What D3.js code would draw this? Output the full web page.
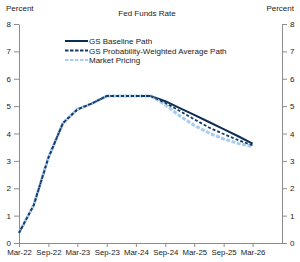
<!DOCTYPE html>
<html>
<head>
<meta charset="utf-8">
<script src="https://cdn.jsdelivr.net/npm/d3@7"></script>
<style>
body { margin: 0; background: #fff; }
svg text { font-family: "Liberation Sans", Arial, sans-serif; fill: #1a1a1a; }
.axis path, .axis line { stroke: #8c8c8c; }
</style>
</head>
<body>
<div id="chart"></div>
<script>
// history shared by all three paths (quarterly, percent)
var hist_dates = ["2022-03", "2022-06", "2022-09", "2022-12", "2023-03", "2023-06",
                  "2023-09", "2023-12", "2024-03", "2024-06"];
var hist_values = [0.37, 1.38, 3.12, 4.38, 4.88, 5.1, 5.37, 5.37, 5.37, 5.37];

// forecasts
var fc_dates = ["2024-06", "2024-09", "2024-12", "2025-03", "2025-06", "2025-09", "2025-12", "2026-03"];
var baseline = [5.37, 5.18, 4.93, 4.68, 4.42, 4.16, 3.9, 3.63];
var prob_weighted = [5.37, 5.12, 4.82, 4.52, 4.22, 3.98, 3.76, 3.57];
var market = [5.37, 5.05, 4.64, 4.3, 4.02, 3.8, 3.64, 3.52];

var x_ticks = ["2022-03", "2022-09", "2023-03", "2023-09", "2024-03", "2024-09",
               "2025-03", "2025-09", "2026-03"];
var y_ticks = [0, 1, 2, 3, 4, 5, 6, 7, 8];

var series_names = ["GS Baseline Path", "GS Probability-Weighted Average Path", "Market Pricing"];

var W = 300, H = 262;
var parse = d3.timeParse("%Y-%m");
var fmt = d3.timeFormat("%b-%y");

var svg = d3.select("#chart").append("svg")
    .attr("width", W).attr("height", H);

var x = d3.scaleTime()
    .domain([parse("2022-03"), parse("2026-09")])
    .range([19, 282]);
var y = d3.scaleLinear()
    .domain([0, 8])
    .range([243, 24]);

// axes
svg.append("g").classed("axis", true)
    .attr("transform", "translate(19,0)")
    .call(d3.axisLeft(y).tickValues(y_ticks).tickSize(5).tickSizeOuter(0))
    .call(function(g){ g.selectAll("text").attr("font-size", 8).attr("x", -8); });

svg.append("g").classed("axis", true)
    .attr("transform", "translate(282,0)")
    .call(d3.axisRight(y).tickValues(y_ticks).tickSize(5).tickSizeOuter(0))
    .call(function(g){ g.selectAll("text").attr("font-size", 8).attr("x", 8); });

svg.append("g").classed("axis", true)
    .attr("transform", "translate(0,243)")
    .call(d3.axisBottom(x).tickValues(x_ticks.map(parse)).tickFormat(fmt)
          .tickSize(4).tickSizeOuter(0))
    .call(function(g){ g.selectAll("text").attr("font-size", 7.8).attr("y", 6); });

// titles
svg.append("text").attr("x", 147).attr("y", 16).attr("text-anchor", "middle")
    .attr("font-size", 8).text("Fed Funds Rate");
svg.append("text").attr("x", 6).attr("y", 11).attr("font-size", 8).text("Percent");
svg.append("text").attr("x", 294).attr("y", 11).attr("text-anchor", "end")
    .attr("font-size", 8).text("Percent");

var line = d3.line()
    .x(function(d){ return x(d.date); })
    .y(function(d){ return y(d.value); });

function path_data(fc){
    var pts = hist_dates.map(function(d, i){ return {date: parse(d), value: hist_values[i]}; });
    fc_dates.forEach(function(d, i){
        if (i > 0) pts.push({date: parse(d), value: fc[i]});
    });
    return pts;
}

var styles = [
    {values: baseline, color: "#0e2d55", width: 2, dash: null},
    {values: market, color: "#a9cdee", width: 3, dash: "4,1.5"},
    {values: prob_weighted, color: "#173a68", width: 1.8, dash: "3,2"}
];

styles.forEach(function(s){
    svg.append("path")
        .datum(path_data(s.values))
        .attr("d", line)
        .attr("fill", "none")
        .attr("stroke", s.color)
        .attr("stroke-width", s.width)
        .attr("stroke-dasharray", s.dash);
});

// legend
var legend = [
    {name: series_names[0], color: "#0e2d55", width: 2, dash: null},
    {name: series_names[1], color: "#173a68", width: 2, dash: "3.5,1.5"},
    {name: series_names[2], color: "#a9cdee", width: 2, dash: "3.5,1.5"}
];
var lg = svg.append("g");
legend.forEach(function(d, i){
    var yy = 41 + i * 9.5;
    lg.append("line").attr("x1", 65).attr("x2", 88)
        .attr("y1", yy).attr("y2", yy)
        .attr("stroke", d.color).attr("stroke-width", d.width)
        .attr("stroke-dasharray", d.dash);
    lg.append("text").attr("x", 89).attr("y", yy + 3)
        .attr("font-size", 8).text(d.name);
});
</script>
</body>
</html>
